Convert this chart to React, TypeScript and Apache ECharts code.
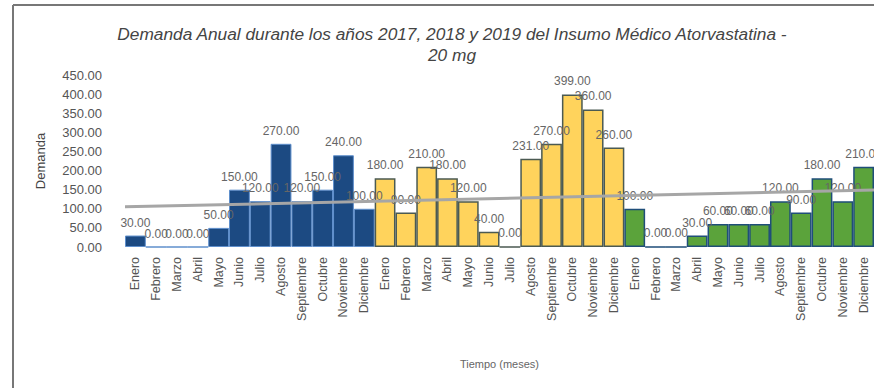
import React, { useEffect, useRef } from "react";
import * as echarts from "echarts";

const months = ["Enero","Febrero","Marzo","Abril","Mayo","Junio","Julio","Agosto","Septiembre","Octubre","Noviembre","Diciembre"];
const categories = [...months, ...months, ...months];
const demand2017 = [30, 0, 0, 0, 50, 150, 120, 270, 120, 150, 240, 100];
const demand2018 = [180, 90, 210, 180, 120, 40, 0, 231, 270, 399, 360, 260];
const demand2019 = [100, 0, 0, 30, 60, 60, 60, 120, 90, 180, 120, 210];
const trendX = [0, 36];
const trendY = [105, 149];
const yTicks = { min: 0, max: 450, interval: 50 };

const pad = (arr: number[], before: number, after: number) => [
  ...Array(before).fill(null),
  ...arr,
  ...Array(after).fill(null),
];

export default function App() {
  const ref = useRef<HTMLDivElement>(null);
  useEffect(() => {
    if (!ref.current) return;
    const chart = echarts.init(ref.current, null, { renderer: "svg" });
    const labelCfg = {
      show: true,
      position: "top" as const,
      distance: 7,
      fontSize: 12,
      color: "#666",
      fontFamily: "Liberation Sans, Arial, sans-serif",
      formatter: (p: any) => Number(p.value).toFixed(2),
    };
    chart.setOption({
      animation: false,
      backgroundColor: "#fff",
      textStyle: { fontFamily: "Liberation Sans, Arial, sans-serif" },
      title: {
        text: "Demanda Anual durante los años 2017, 2018 y 2019 del Insumo Médico Atorvastatina -\n20 mg",
        left: 447,
        top: 18,
        textAlign: "center",
        textStyle: {
          fontSize: 17.3,
          fontStyle: "italic",
          fontWeight: "normal",
          color: "#444",
          lineHeight: 21,
          fontFamily: "Liberation Sans, Arial, sans-serif",
        },
      },
      graphic: [
        { type: "line", shape: { x1: 13, y1: 5, x2: 874, y2: 5 }, style: { stroke: "#777", lineWidth: 2 } },
        { type: "line", shape: { x1: 13, y1: 5, x2: 13, y2: 388 }, style: { stroke: "#777", lineWidth: 2 } },
      ],
      grid: { left: 125, top: 75, width: 750, height: 172, containLabel: false },
      xAxis: [
        {
          type: "category",
          data: categories,
          boundaryGap: true,
          axisLine: { show: false },
          axisTick: { show: false },
          axisLabel: {
            interval: 0,
            rotate: 90,
            margin: 10,
            fontSize: 12.5,
            color: "#555",
          },
          name: "Tiempo (meses)",
          nameLocation: "middle",
          nameGap: 111,
          nameTextStyle: { fontSize: 11, color: "#666" },
        },
        { type: "value", min: 0, max: 36, show: false },
      ],
      yAxis: {
        type: "value",
        min: yTicks.min,
        max: yTicks.max,
        interval: yTicks.interval,
        axisLine: { show: false },
        axisTick: { show: false },
        splitLine: { show: false },
        axisLabel: {
          formatter: (v: number) => v.toFixed(2),
          fontSize: 13,
          color: "#555",
          margin: 23,
        },
        name: "Demanda",
        nameLocation: "middle",
        nameGap: 78,
        nameRotate: 90,
        nameTextStyle: { fontSize: 13, color: "#444" },
      },
      series: [
        {
          type: "bar",
          name: "2017",
          stack: "d",
          barCategoryGap: "0%",
          data: pad(demand2017, 0, 24),
          itemStyle: { color: "#1c4a82", borderColor: "#5f8fcc", borderWidth: 1 },
          label: labelCfg,
        },
        {
          type: "bar",
          name: "2018",
          stack: "d",
          barCategoryGap: "0%",
          data: pad(demand2018, 12, 12),
          itemStyle: { color: "#ffd35c", borderColor: "#4b5a52", borderWidth: 1.5 },
          label: labelCfg,
        },
        {
          type: "bar",
          name: "2019",
          stack: "d",
          barCategoryGap: "0%",
          data: pad(demand2019, 24, 0),
          itemStyle: { color: "#5ba33b", borderColor: "#1f4e79", borderWidth: 1.5 },
          label: labelCfg,
        },
        {
          type: "line",
          name: "Tendencia",
          xAxisIndex: 1,
          data: trendX.map((x, i) => [x, trendY[i]]),
          symbol: "none",
          lineStyle: { color: "#a6a6a6", width: 3 },
          z: 5,
        },
      ],
    });
    return () => chart.dispose();
  }, []);
  return (
    <div
      ref={ref}
      style={{ position: "fixed", left: 0, top: 0, width: 874, height: 388, background: "#fff" }}
    />
  );
}
